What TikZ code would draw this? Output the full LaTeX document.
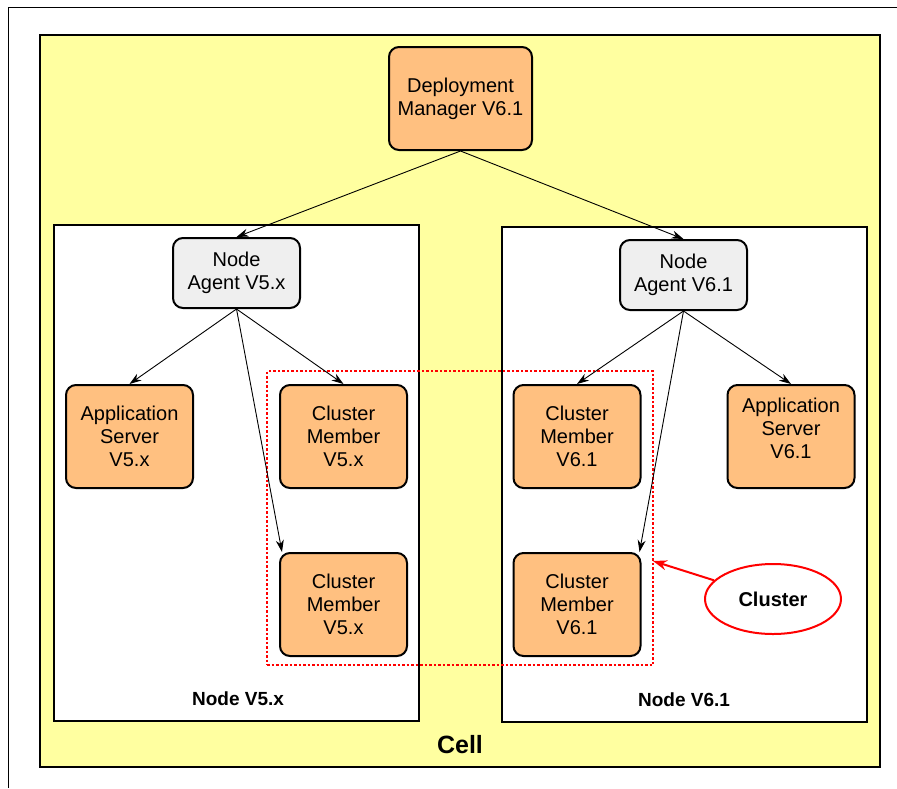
\documentclass[tikz,border=0pt]{standalone}
\usepackage{fontspec}
\setmainfont{Liberation Sans}
\usepackage{tikz}
\usetikzlibrary{arrows.meta,shapes.geometric}
\definecolor{cellyellow}{HTML}{FFFFA0}
\definecolor{serverorange}{HTML}{FFC080}
\definecolor{agentgray}{HTML}{EFEFEF}
\newcommand{\boxfont}{\fontsize{20}{23}\selectfont}

\begin{document}
\begin{tikzpicture}[x=1pt,y=-1pt,
	server/.style={draw, line width=2pt, rounded corners=10pt, fill=serverorange,
		minimum width=127pt, minimum height=103pt, inner sep=0pt, align=center, font=\boxfont},
	agent/.style={server, fill=agentgray, minimum height=70pt},
	nodebox/.style={draw, line width=2pt, fill=white},
	link/.style={line width=0.9pt, -{Stealth[length=12pt,width=8pt]}},
	caption/.style={font=\bfseries\fontsize{19}{22}\selectfont}]
	\useasboundingbox (0,0) rectangle (897,788);
	\draw[line width=1pt] (8,788) -- (8,7) -- (897,7);

	\filldraw[fill=cellyellow, line width=2pt] (40,35) rectangle (880,767);
	\node[font=\bfseries\fontsize{25}{28}\selectfont] (celltxt) at (460,745) {Cell};

	\filldraw[nodebox] (54,225) rectangle (419,721);
	\filldraw[nodebox] (502,227) rectangle (867,722);
	\node[caption] (nodeAtxt) at (238,699) {Node V5.x};
	\node[caption] (nodeBtxt) at (684,700) {Node V6.1};

	\node[server, minimum width=143pt] (dm) at (460.5,98.5) {Deployment\\Manager V6.1};

	\node[agent] (naA) at (236.5,273) {Node\\Agent V5.x};
	\node[agent] (naB) at (683.5,275) {Node\\Agent V6.1};

	\node[server] (asA) at (129.5,436.5) {Application\\Server\\V5.x};
	\node[server] (cmA1) at (343.5,436.5) {Cluster\\Member\\V5.x};
	\node[server] (cmA2) at (343.5,604.5) {Cluster\\Member\\V5.x};
	\node[server] (cmB1) at (577,436.5) {Cluster\\Member\\V6.1};
	\node[server] (asB) at (791,436.5) {Application\\Server\\V6.1\\[-7pt]};
	\node[server] (cmB2) at (577,604.5) {Cluster\\Member\\V6.1};

	% cluster group
	\node[draw=red, line width=2.5pt, dash pattern=on 2.5pt off 2pt,
		minimum width=386pt, minimum height=294pt, inner sep=0pt] (grp) at (460,518) {};
	\node[draw=red, line width=2pt, ellipse, fill=white, minimum width=136pt, minimum height=70pt,
		font=\bfseries\fontsize{20}{22}\selectfont] (cl) at (773,599) {Cluster};
	\coordinate (hit) at (653,561);
	\draw[red, line width=2pt, -{Stealth[length=14pt,width=10pt]}] (cl) -- (hit);

	\draw[link] (dm.south) -- (naA.north);
	\draw[link] (dm.south) -- (naB.north);
	\draw[link] (naA.south) -- (asA.north);
	\draw[link] (naA.south) -- (cmA1.north);
	\draw[link] (naA.south) -- ([xshift=3pt]cmA2.north west);
	\draw[link] (naB.south) -- (cmB1.north);
	\draw[link] (naB.south) -- (asB.north);
	\draw[link] (naB.south) -- ([xshift=-2pt]cmB2.north east);
\end{tikzpicture}
\end{document}
